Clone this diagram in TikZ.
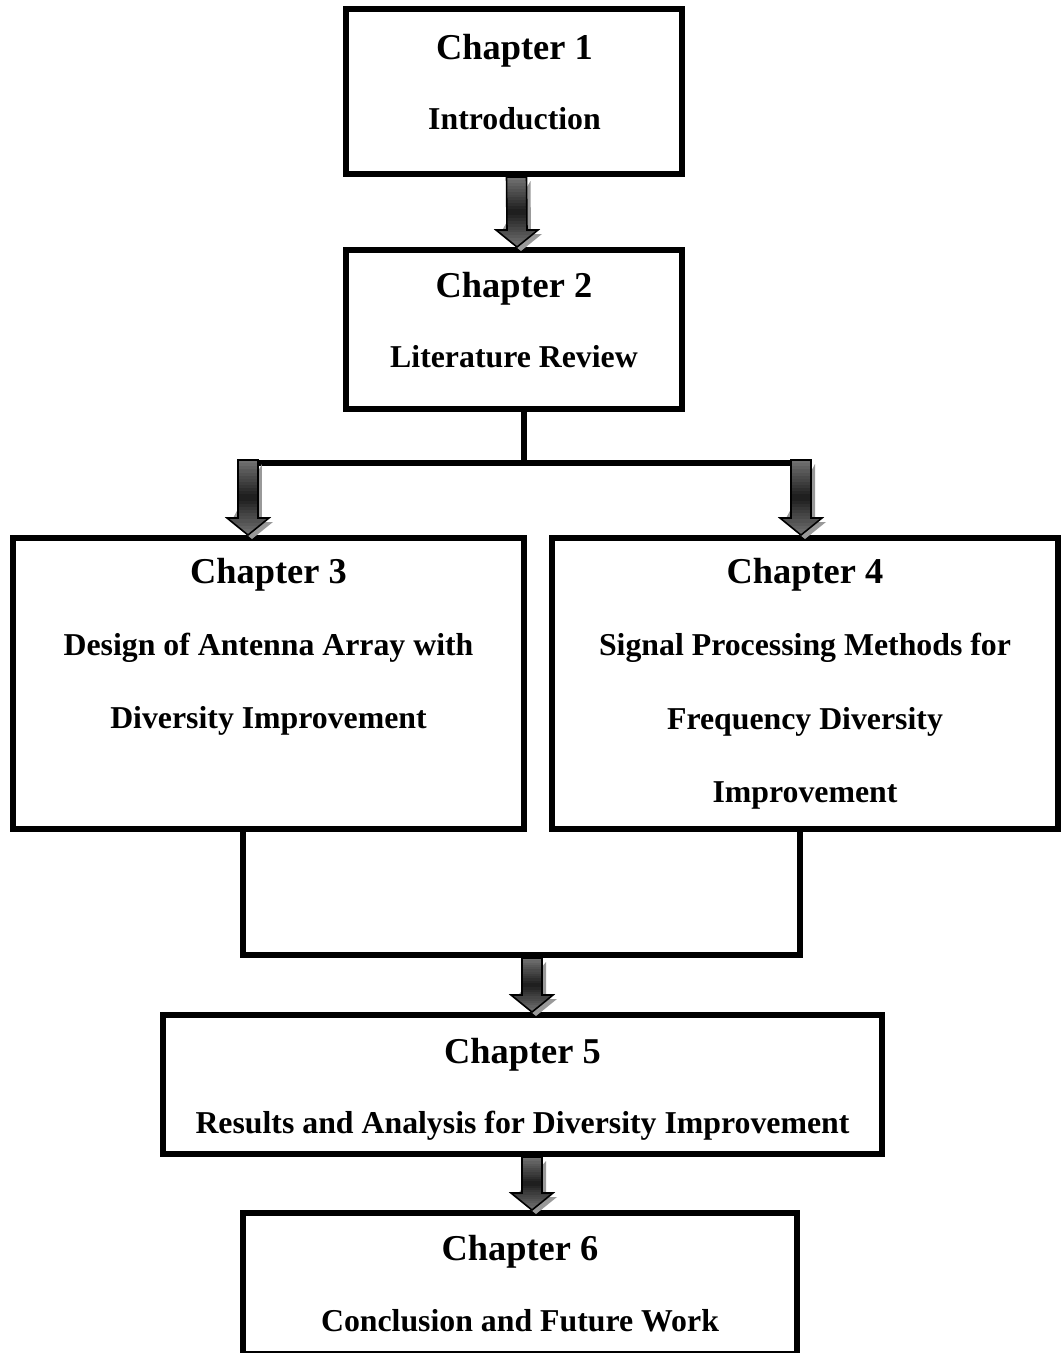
\documentclass[tikz,border=0pt]{standalone}
\usepackage{fontspec}
\setmainfont{Liberation Serif}
\usetikzlibrary{fit,calc}

% outline of a down-pointing block arrow from #1 (top of shaft) to #2 (tip)
\newcommand\arrowoutline[2]{%
  ([xshift=-0.2cm]#1) --
  ([xshift=-0.2cm,yshift=0.34cm]#2) --
  ([xshift=-0.42cm,yshift=0.34cm]#2) --
  (#2) --
  ([xshift=0.42cm,yshift=0.34cm]#2) --
  ([xshift=0.2cm,yshift=0.34cm]#2) --
  ([xshift=0.2cm]#1) -- cycle}

% shadowed block arrow with a grey-black-grey gradient along its length
\newcommand\blockdown[2]{%
  \fill[black!40]
    ([xshift=0.28cm,yshift=-0.08cm]#1) --
    ([xshift=0.28cm,yshift=0.26cm]#2) --
    ([xshift=0.50cm,yshift=0.26cm]#2) --
    ([xshift=0.08cm,yshift=-0.08cm]#2) --
    ([xshift=-0.34cm,yshift=0.26cm]#2) -- cycle;
  \begin{scope}
    \clip \arrowoutline{#1}{#2};
    \foreach \i in {0,...,23}{
      \pgfmathtruncatemacro\shadepct{90-70*abs((\i+0.5)/24-0.5)}
      \pgfmathsetmacro\ta{\i/24}
      \pgfmathsetmacro\tb{(\i+1.3)/24}
      \fill[black!\shadepct]
        ([xshift=-0.5cm]$(#1)!\ta!(#2)$) rectangle ([xshift=0.5cm]$(#1)!\tb!(#2)$);
    }
  \end{scope}
  \draw[black, line width=0.9pt, line join=miter] \arrowoutline{#1}{#2};
}

\tikzset{
  chapbox/.style={draw=black, line width=0.12cm, inner sep=0pt, fill=white},
  conn/.style={draw=black, line width=0.12cm, line join=miter},
  chaptitle/.style={anchor=base, inner sep=0pt, font=\fontsize{20.7}{25}\selectfont\bfseries},
  chapbody/.style={anchor=base, inner sep=0pt, font=\fontsize{18.1}{22}\selectfont\bfseries},
}

\begin{document}
\begin{tikzpicture}[x=0.02cm, y=-0.02cm]
  \useasboundingbox (0,0) rectangle (1063,1353);

  % chapter boxes
  \node[chapbox, fit={(346,9) (682,174)}] (c1) {};
  \node[chapbox, fit={(346,250) (682,409)}] (c2) {};
  \node[chapbox, fit={(13,538) (524,829)}] (c3) {};
  \node[chapbox, fit={(552,538) (1058,829)}] (c4) {};
  \node[chapbox, fit={(163,1015) (882,1154)}] (c5) {};
  \node[chapbox, fit={(243,1213) (797,1354)}] (c6) {};

  % junction points of the connector lines
  \coordinate (jm) at (524,463);
  \coordinate (jl) at (242,463);
  \coordinate (jr) at (810,463);
  \coordinate (al) at (248,460);
  \coordinate (ar) at (801,460);
  \coordinate (bl) at (243,955);
  \coordinate (br) at (800,955);
  \coordinate (bm) at (532,958);

  % arrow ends
  \coordinate (a1s) at ($(c1.south)+(2.5,0)$);
  \coordinate (a1e) at ($(c2.north)+(3,0)$);
  \coordinate (a3e) at (c3.north -| al);
  \coordinate (a4e) at (c4.north -| ar);
  \coordinate (a5e) at (c5.north -| bm);
  \coordinate (a6s) at (c5.south -| bm);
  \coordinate (a6e) at (c6.north -| bm);

  % connector lines
  \draw[conn] (c2.south -| jm) -- (jm);
  \draw[conn] (jl) -- (jr);
  \draw[conn] (c3.south -| bl) -- (bl) -- (br) -- (c4.south -| br);

  % block arrows
  \blockdown{a1s}{a1e}
  \blockdown{al}{a3e}
  \blockdown{ar}{a4e}
  \blockdown{bm}{a5e}
  \blockdown{a6s}{a6e}

  % texts
  \node[chaptitle] (t1) at (514.5,59) {Chapter 1};
  \node[chapbody] (s1) at (514.5,129) {Introduction};

  \node[chaptitle] (t2) at (514,297) {Chapter 2};
  \node[chapbody] (s2) at (514,367) {Literature Review};

  \node[chaptitle] (t3) at (268.5,583) {Chapter 3};
  \node[chapbody] (s3a) at (268.5,655) {Design of Antenna Array with};
  \node[chapbody] (s3b) at (268.5,728) {Diversity Improvement};

  \node[chaptitle] (t4) at (805,583) {Chapter 4};
  \node[chapbody] (s4a) at (805,655) {Signal Processing Methods for};
  \node[chapbody] (s4b) at (805,729) {Frequency Diversity};
  \node[chapbody] (s4c) at (805,802) {Improvement};

  \node[chaptitle] (t5) at (522.5,1063) {Chapter 5};
  \node[chapbody] (s5) at (522.5,1133) {Results and Analysis for Diversity Improvement};

  \node[chaptitle] (t6) at (520,1260) {Chapter 6};
  \node[chapbody] (s6) at (520,1331) {Conclusion and Future Work};
\end{tikzpicture}
\end{document}
